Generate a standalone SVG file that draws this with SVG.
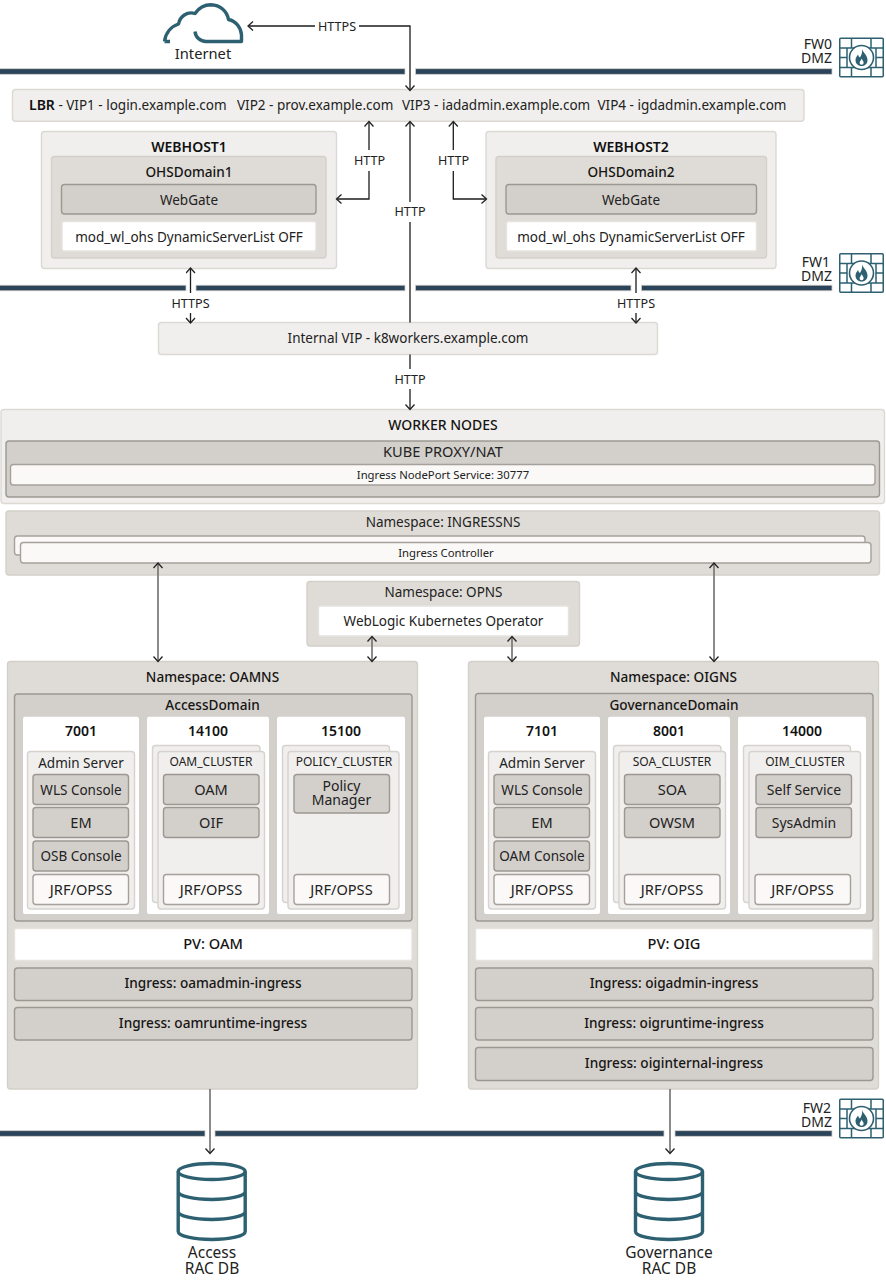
<svg xmlns="http://www.w3.org/2000/svg" xmlns:xlink="http://www.w3.org/1999/xlink" width="886" height="1280" viewBox="0 0 886 1280">
<style>
text{font-family:"Noto Sans","Open Sans","Liberation Sans",sans-serif;font-size:13.5px;fill:#222;text-anchor:middle}
.b{font-weight:600;fill:#111;font-size:14px}
.m{font-weight:500;fill:#161513;font-size:13.6px}
.u{font-size:14.6px}
.q{font-size:14px}
.s{font-size:12px}
.h{font-size:12.6px}
.xs{font-size:11.3px}
.e{font-size:15.5px}
.r{text-anchor:end;font-size:14px}
rect{stroke-width:1.4}
.l{fill:#f0efed;stroke:#dcd9d4}
.g{fill:#dfdcd7;stroke:#d3d0ca}
.d{fill:#d3cfcb;stroke:#9c9891}
.w{fill:#fff;stroke:#e6e3df}
.n{fill:#faf9f8;stroke:#a5a19a}
.c{fill:#f0efed;stroke:#d6d3ce}
.bar{fill:#2c4459;stroke:#d3d0ca;stroke-width:.8}
.k{fill:none;stroke:#1c1c1c;stroke-width:1.3}
.a{fill:none;stroke:#777;stroke-width:1.7}
.t{fill:none;stroke:#2d6071;stroke-width:3.4}
.f{fill:none;stroke:#2d6071;stroke-width:1.5}
</style>
<defs>
<marker id="h" markerUnits="userSpaceOnUse" markerWidth="12" markerHeight="12" refX="9" refY="5" orient="auto-start-reverse"><path d="M4.5 .5L9.5 5L4.5 9.500" fill="none" stroke="#222" stroke-width="1.3"/></marker>
<g id="fw">
<rect x=".75" y=".75" width="43.5" height="38.5" rx="1" class="f" style="fill:#fff"/>
<path class="f" d="M1 10.500H44M1 30H44M12.500 1V10.500M32 1V10.500M12.500 30V39.500M32 30V39.500M1 20H8M37 20H44M8 10.500V30M37 10.500V30"/>
<circle cx="22.500" cy="20" r="12" fill="#fff" stroke="#2d6071" stroke-width="1.6"/>
<path fill="#2d6071" d="M23 11.500C24 15 28.500 17.500 28.500 22.500C28.500 26.500 25.500 28.500 22.500 28.500C19 28.500 16.500 26 16.500 22.500C16.500 20 18 18.500 19 17C19.500 18.500 20 19.500 21 20C22.500 17.500 23.500 15 23 11.500ZM22.700 21C22.200 23 20.600 23.500 20.600 25.300C20.600 26.500 21.500 27.200 22.600 27.200C23.800 27.200 24.600 26.400 24.600 25.200C24.600 23.500 23.300 22.800 22.700 21Z"/>
</g>
<g id="db"><ellipse cx="0" cy="9.500" rx="33.500" ry="8" class="t"/><path class="t" d="M-33.500 9.500V69.500C-33.500 74 -18 77.500 0 77.500C18 77.500 33.500 74 33.500 69.500V9.500M-33.500 29.500C-33.500 34 -18 37.500 0 37.500C18 37.500 33.500 34 33.500 29.500M-33.500 49.500C-33.500 54 -18 57.500 0 57.500C18 57.500 33.500 54 33.500 49.500"/></g>
</defs>

<g id="firewalls">
<rect class="bar" x="-2" y="68.700" width="407" height="5.600"/><rect class="bar" x="415.500" y="68.700" width="416.500" height="5.600"/>
<rect class="bar" x="-2" y="285.200" width="188" height="5.600"/><rect class="bar" x="196" y="285.200" width="209" height="5.600"/><rect class="bar" x="415.500" y="285.200" width="215.500" height="5.600"/><rect class="bar" x="641.500" y="285.200" width="190.500" height="5.600"/>
<rect class="bar" x="-2" y="1130.700" width="207" height="5.600"/><rect class="bar" x="215" y="1130.700" width="449" height="5.600"/><rect class="bar" x="675" y="1130.700" width="157" height="5.600"/>
<g id="fw0"><use xlink:href="#fw" x="839" y="37.500"/><text class="r" x="832" y="49">FW0</text><text class="r" x="832" y="63">DMZ</text></g>
<g id="fw1"><use xlink:href="#fw" x="839" y="253"/><text class="r" x="830" y="267">FW1</text><text class="r" x="832" y="281">DMZ</text></g>
<g id="fw2"><use xlink:href="#fw" x="839" y="1098.500"/><text class="r" x="831" y="1113">FW2</text><text class="r" x="832" y="1127">DMZ</text></g>
</g>

<g id="internet"><path class="t" stroke-linejoin="round" d="M164.500 41.500C165.500 33 171 26.500 178.500 24C180 16.500 187 11 195 13.500C199 7.500 205 4.700 211 4.700C220 5 227 11 228.500 19.500C236 21 241 27.500 241.500 35V41.500H206C200 41.500 195.500 37 195 31.500M164.500 41.500H170"/><text x="203" y="59" style="font-size:14.700px">Internet</text></g>

<g id="lbr"><rect class="l" x="12.500" y="89.500" width="791.500" height="31.700" rx="3"/><text x="29" y="110" style="text-anchor:start"><tspan class="b">LBR</tspan> - VIP1 - login.example.com</text><text x="237" y="110" style="text-anchor:start">VIP2 - prov.example.com</text><text x="402" y="110" style="text-anchor:start">VIP3 - iadadmin.example.com</text><text x="597.500" y="110" style="text-anchor:start">VIP4 - igdadmin.example.com</text></g>

<g id="webhost1"><rect class="l" x="41.500" y="131.500" width="295" height="137" rx="3"/><text class="b" x="189" y="152">WEBHOST1</text>
<g id="ohsdomain1"><rect class="g" x="51.500" y="156.500" width="274.500" height="101.500" rx="3"/><text class="m" x="189" y="177">OHSDomain1</text>
<g id="webgate1"><rect class="d" x="61.500" y="184.500" width="254.500" height="29.500" rx="3"/><text x="189" y="205">WebGate</text></g>
<g id="mod1"><rect class="w" x="62" y="221.500" width="254" height="29.500" rx="2"/><text x="189" y="241.500">mod_wl_ohs DynamicServerList OFF</text></g></g></g>

<g id="webhost2"><rect class="l" x="486" y="131.500" width="290" height="137" rx="3"/><text class="b" x="631" y="152">WEBHOST2</text>
<g id="ohsdomain2"><rect class="g" x="496" y="156.500" width="270.500" height="101.500" rx="3"/><text class="m" x="631" y="177">OHSDomain2</text>
<g id="webgate2"><rect class="d" x="506" y="184.500" width="250.500" height="29.500" rx="3"/><text x="631" y="205">WebGate</text></g>
<g id="mod2"><rect class="w" x="506.500" y="221.500" width="250" height="29.500" rx="2"/><text x="631" y="241.500">mod_wl_ohs DynamicServerList OFF</text></g></g></g>

<g id="internal-vip"><rect class="l" x="158.500" y="322.500" width="499" height="32" rx="3"/><text x="408" y="343">Internal VIP - k8workers.example.com</text></g>

<g id="worker-nodes"><rect class="l" x="1" y="409.500" width="883.500" height="94" rx="3"/><text class="m q" x="443" y="430">WORKER NODES</text>
<g id="kube-proxy"><rect class="d" x="6" y="441" width="873.500" height="56" rx="3"/><text class="u" x="443" y="457">KUBE PROXY/NAT</text>
<g id="nodeport"><rect class="n" x="10.500" y="464.500" width="864.500" height="20.500" rx="3"/><text class="xs" x="443" y="479">Ingress NodePort Service: 30777</text></g></g></g>

<g id="ingressns"><rect class="g" x="6" y="511" width="873.500" height="64" rx="3"/><text x="443" y="527">Namespace: INGRESSNS</text>
<rect class="n" x="14.500" y="536" width="850.500" height="19" rx="3"/>
<g id="ingress-controller"><rect class="n" x="20.500" y="542.500" width="850.500" height="20.500" rx="3"/><text class="xs" x="446" y="557">Ingress Controller</text></g></g>

<g id="opns"><rect class="g" x="307" y="581.500" width="272.500" height="64.500" rx="3"/><text x="443.500" y="597">Namespace: OPNS</text>
<g id="operator"><rect class="w" x="318.500" y="606" width="250" height="30" rx="2"/><text x="443.500" y="626">WebLogic Kubernetes Operator</text></g></g>

<g id="oamns"><rect class="g" x="7.500" y="661.500" width="410" height="427.500" rx="3"/><text class="m" x="212.500" y="682">Namespace: OAMNS</text>
<g id="access-domain"><rect class="d" x="14.500" y="694" width="397.500" height="227" rx="3"/><text class="m" x="212.500" y="710">AccessDomain</text>
<g id="p7001"><rect x="23" y="716.700" width="116" height="197.300" rx="2" fill="#fff" stroke="none"/><text class="b" x="81" y="736">7001</text>
<rect class="c" x="27.500" y="751.500" width="107" height="157.500" rx="3"/><text x="81" y="768">Admin Server</text>
<rect class="d" x="33" y="774.500" width="95.500" height="30" rx="3"/><text x="81" y="794.500">WLS Console</text>
<rect class="d" x="33" y="807.500" width="95.500" height="30" rx="3"/><text class="u" x="81" y="827.500">EM</text>
<rect class="d" x="33" y="841" width="95.500" height="30" rx="3"/><text x="81" y="861">OSB Console</text>
<rect class="n" x="33" y="874.500" width="95.500" height="30" rx="3"/><text class="u" x="81" y="894.500">JRF/OPSS</text></g>
<g id="p14100"><rect x="147" y="716.700" width="122" height="197.300" rx="2" fill="#fff" stroke="none"/><text class="b" x="208" y="736">14100</text>
<rect class="c" x="152.500" y="745.500" width="107.500" height="157" rx="3"/><rect class="c" x="158" y="751.500" width="106.500" height="157.500" rx="3"/><text class="s" x="211" y="766">OAM_CLUSTER</text>
<rect class="d" x="163.500" y="774.500" width="95.500" height="30" rx="3"/><text class="u" x="211" y="794.500">OAM</text>
<rect class="d" x="163.500" y="807.500" width="95.500" height="30" rx="3"/><text class="u" x="211" y="827.500">OIF</text>
<rect class="n" x="163.500" y="874.500" width="95.500" height="30" rx="3"/><text class="u" x="211" y="894.500">JRF/OPSS</text></g>
<g id="p15100"><rect x="277" y="716.700" width="128" height="197.300" rx="2" fill="#fff" stroke="none"/><text class="b" x="341" y="736">15100</text>
<rect class="c" x="282.500" y="745.500" width="107" height="157" rx="3"/><rect class="c" x="288" y="751.500" width="111" height="157.500" rx="3"/><text class="s" x="344" y="766">POLICY_CLUSTER</text>
<rect class="d" x="294" y="774.500" width="95.500" height="38.500" rx="3"/><text class="q" x="341.500" y="790.500">Policy</text><text class="q" x="341.500" y="804.500">Manager</text>
<rect class="n" x="294" y="874.500" width="95.500" height="30" rx="3"/><text class="u" x="341.500" y="894.500">JRF/OPSS</text></g>
</g>
<g id="pv-oam"><rect class="w" x="14.500" y="928.500" width="397.500" height="32" rx="2"/><text class="m u" x="213" y="948.500">PV: OAM</text></g>
<g id="oamadmin"><rect class="d" x="14.500" y="968" width="397.500" height="32.500" rx="3"/><text class="m" x="213" y="988">Ingress: oamadmin-ingress</text></g>
<g id="oamruntime"><rect class="d" x="14.500" y="1007.500" width="397.500" height="32.500" rx="3"/><text class="m" x="213" y="1028">Ingress: oamruntime-ingress</text></g>
</g>

<g id="oigns"><rect class="g" x="468.500" y="661.500" width="410" height="427.500" rx="3"/><text class="m" x="673.500" y="682">Namespace: OIGNS</text>
<g id="governance-domain"><rect class="d" x="475.500" y="693.500" width="397.500" height="227.500" rx="3"/><text class="m" x="674" y="710">GovernanceDomain</text>
<g id="p7101"><rect x="484" y="716.700" width="116" height="197.300" rx="2" fill="#fff" stroke="none"/><text class="b" x="542" y="736">7101</text>
<rect class="c" x="488.500" y="751.500" width="107" height="157.500" rx="3"/><text x="542" y="768">Admin Server</text>
<rect class="d" x="494" y="774.500" width="95.500" height="30" rx="3"/><text x="542" y="794.500">WLS Console</text>
<rect class="d" x="494" y="807.500" width="95.500" height="30" rx="3"/><text class="u" x="542" y="827.500">EM</text>
<rect class="d" x="494" y="841" width="95.500" height="30" rx="3"/><text x="542" y="861">OAM Console</text>
<rect class="n" x="494" y="874.500" width="95.500" height="30" rx="3"/><text class="u" x="542" y="894.500">JRF/OPSS</text></g>
<g id="p8001"><rect x="608" y="716.700" width="122" height="197.300" rx="2" fill="#fff" stroke="none"/><text class="b" x="669" y="736">8001</text>
<rect class="c" x="613.500" y="745.500" width="107.500" height="157" rx="3"/><rect class="c" x="619" y="751.500" width="106.500" height="157.500" rx="3"/><text class="s" x="672" y="766">SOA_CLUSTER</text>
<rect class="d" x="624.500" y="774.500" width="95.500" height="30" rx="3"/><text class="u" x="672" y="794.500">SOA</text>
<rect class="d" x="624.500" y="807.500" width="95.500" height="30" rx="3"/><text class="u" x="672" y="827.500">OWSM</text>
<rect class="n" x="624.500" y="874.500" width="95.500" height="30" rx="3"/><text class="u" x="672" y="894.500">JRF/OPSS</text></g>
<g id="p14000"><rect x="738" y="716.700" width="128" height="197.300" rx="2" fill="#fff" stroke="none"/><text class="b" x="802" y="736">14000</text>
<rect class="c" x="743.500" y="745.500" width="107" height="157" rx="3"/><rect class="c" x="749" y="751.500" width="111.500" height="157.500" rx="3"/><text class="s" x="805" y="766">OIM_CLUSTER</text>
<rect class="d" x="756" y="774.500" width="95.500" height="30" rx="3"/><text class="q" x="804" y="794.500">Self Service</text>
<rect class="d" x="756" y="807.500" width="95.500" height="30" rx="3"/><text class="q" x="804" y="827.500">SysAdmin</text>
<rect class="n" x="755" y="874.500" width="95.500" height="30" rx="3"/><text class="u" x="802.500" y="894.500">JRF/OPSS</text></g>
</g>
<g id="pv-oig"><rect class="w" x="475.500" y="928.500" width="397.500" height="32" rx="2"/><text class="m u" x="674" y="948.500">PV: OIG</text></g>
<g id="oigadmin"><rect class="d" x="475.500" y="968" width="397.500" height="32.500" rx="3"/><text class="m" x="674" y="988">Ingress: oigadmin-ingress</text></g>
<g id="oigruntime"><rect class="d" x="475.500" y="1007.500" width="397.500" height="32.500" rx="3"/><text class="m" x="674" y="1028">Ingress: oigruntime-ingress</text></g>
<g id="oiginternal"><rect class="d" x="475.500" y="1047.500" width="397.500" height="33" rx="3"/><text class="m" x="674" y="1068">Ingress: oiginternal-ingress</text></g>
</g>

<g id="db-access"><use xlink:href="#db" x="211.700" y="1162"/><text class="e" x="212" y="1258">Access</text><text class="e" x="212" y="1273.500">RAC DB</text></g>
<g id="db-governance"><use xlink:href="#db" x="669" y="1162"/><text class="e" x="669" y="1258">Governance</text><text class="e" x="669" y="1273.500">RAC DB</text></g>

<g id="connectors">
<path class="k" marker-start="url(#h)" d="M248.500 26H315"/>
<path class="k" marker-end="url(#h)" d="M359 26H410V90"/>
<path class="k" marker-start="url(#h)" d="M369 122V150"/>
<path class="k" marker-end="url(#h)" d="M369 171V199H337"/>
<path class="k" marker-start="url(#h)" d="M453.300 122V150"/>
<path class="k" marker-end="url(#h)" d="M453.300 171V199H486"/>
<path class="k" marker-start="url(#h)" d="M410 122V202"/>
<path class="k" d="M410 222V322.500"/>
<path class="k" d="M410 354.500V369"/>
<path class="k" marker-end="url(#h)" d="M410 389V409"/>
<path class="k" marker-start="url(#h)" d="M190.500 268.500V293"/>
<path class="k" marker-end="url(#h)" d="M190.500 313V322.500"/>
<path class="k" marker-start="url(#h)" d="M636 268.500V293"/>
<path class="k" marker-end="url(#h)" d="M636 313V322.500"/>
<path class="a" marker-start="url(#h)" marker-end="url(#h)" d="M158 563.500V661"/>
<path class="a" marker-start="url(#h)" marker-end="url(#h)" d="M714 563.500V661"/>
<path class="a" marker-start="url(#h)" marker-end="url(#h)" d="M372 637V661"/>
<path class="a" marker-start="url(#h)" marker-end="url(#h)" d="M512 637V661"/>
<path class="a" marker-end="url(#h)" d="M210 1089V1153"/>
<path class="a" marker-end="url(#h)" d="M670 1089V1153"/>
<text class="h" x="337" y="30.500">HTTPS</text>
<text class="h" x="369.500" y="164.500">HTTP</text>
<text class="h" x="453.500" y="164.500">HTTP</text>
<text class="h" x="410" y="216">HTTP</text>
<text class="h" x="190.500" y="308">HTTPS</text>
<text class="h" x="636" y="308">HTTPS</text>
<text class="h" x="410" y="384">HTTP</text>
</g>
</svg>
